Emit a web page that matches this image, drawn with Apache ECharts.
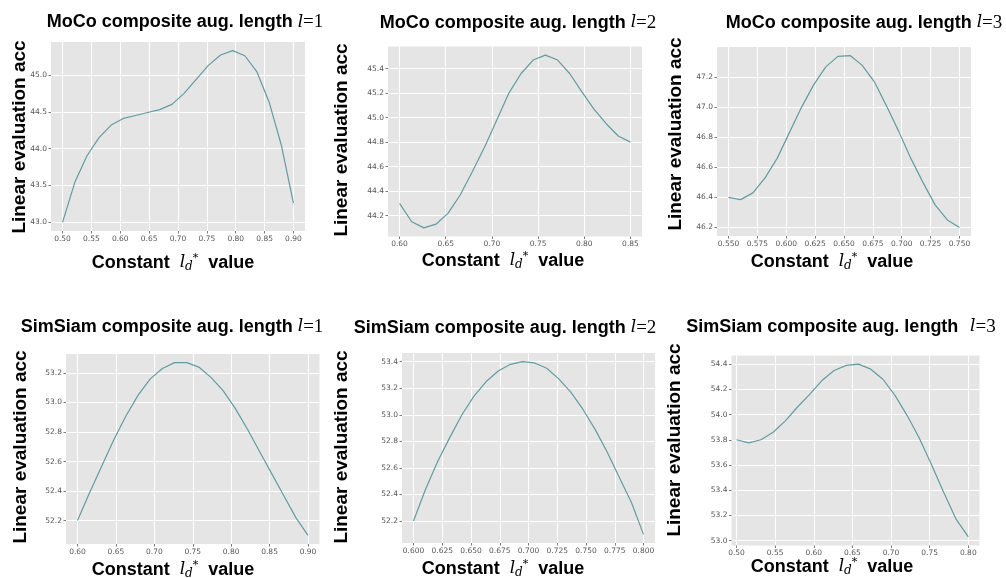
<!DOCTYPE html>
<html>
<head>
<meta charset="utf-8">
<script src="https://cdn.jsdelivr.net/npm/echarts@6/dist/echarts.min.js"></script>
<style>
html, body { margin: 0; padding: 0; background: #fff; }
#chart { width: 1006px; height: 578px; }
</style>
</head>
<body>
<div id="chart"></div>
<script>
// MoCo l=1
const moco1X = [0.5000, 0.5211, 0.5421, 0.5632, 0.5842, 0.6053, 0.6263, 0.6474, 0.6684, 0.6895,
  0.7105, 0.7316, 0.7526, 0.7737, 0.7947, 0.8158, 0.8368, 0.8579, 0.8789, 0.9000];
const moco1Y = [43.00, 43.54, 43.90, 44.15, 44.32, 44.41, 44.45, 44.49, 44.53, 44.60,
  44.75, 44.94, 45.13, 45.27, 45.33, 45.26, 45.04, 44.63, 44.05, 43.26];
const moco1XTicks = [0.50, 0.55, 0.60, 0.65, 0.70, 0.75, 0.80, 0.85, 0.90];
const moco1YTicks = [43.0, 43.5, 44.0, 44.5, 45.0];

// MoCo l=2
const moco2X = [0.6000, 0.6132, 0.6263, 0.6395, 0.6526, 0.6658, 0.6789, 0.6921, 0.7053, 0.7184,
  0.7316, 0.7447, 0.7579, 0.7711, 0.7842, 0.7974, 0.8105, 0.8237, 0.8368, 0.8500];
const moco2Y = [44.30, 44.15, 44.10, 44.13, 44.22, 44.37, 44.56, 44.76, 44.98, 45.20,
  45.36, 45.47, 45.51, 45.47, 45.36, 45.21, 45.07, 44.95, 44.85, 44.80];
const moco2XTicks = [0.60, 0.65, 0.70, 0.75, 0.80, 0.85];
const moco2YTicks = [44.2, 44.4, 44.6, 44.8, 45.0, 45.2, 45.4];

// MoCo l=3
const moco3X = [0.5500, 0.5605, 0.5711, 0.5816, 0.5921, 0.6026, 0.6132, 0.6237, 0.6342, 0.6447,
  0.6553, 0.6658, 0.6763, 0.6868, 0.6974, 0.7079, 0.7184, 0.7289, 0.7395, 0.7500];
const moco3Y = [46.40, 46.385, 46.43, 46.53, 46.66, 46.83, 47.00, 47.15, 47.27, 47.34,
  47.345, 47.28, 47.17, 47.01, 46.84, 46.66, 46.50, 46.35, 46.25, 46.20];
const moco3XTicks = [0.550, 0.575, 0.600, 0.625, 0.650, 0.675, 0.700, 0.725, 0.750];
const moco3YTicks = [46.2, 46.4, 46.6, 46.8, 47.0, 47.2];

// SimSiam l=1
const sim1X = [0.6000, 0.6158, 0.6316, 0.6474, 0.6632, 0.6789, 0.6947, 0.7105, 0.7263, 0.7421,
  0.7579, 0.7737, 0.7895, 0.8053, 0.8211, 0.8368, 0.8526, 0.8684, 0.8842, 0.9000];
const sim1Y = [52.20, 52.39, 52.57, 52.75, 52.91, 53.05, 53.16, 53.23, 53.27, 53.27,
  53.24, 53.17, 53.08, 52.96, 52.82, 52.67, 52.52, 52.37, 52.22, 52.10];
const sim1XTicks = [0.60, 0.65, 0.70, 0.75, 0.80, 0.85, 0.90];
const sim1YTicks = [52.2, 52.4, 52.6, 52.8, 53.0, 53.2];

// SimSiam l=2
const sim2X = [0.6000, 0.6105, 0.6211, 0.6316, 0.6421, 0.6526, 0.6632, 0.6737, 0.6842, 0.6947,
  0.7053, 0.7158, 0.7263, 0.7368, 0.7474, 0.7579, 0.7684, 0.7789, 0.7895, 0.8000];
const sim2Y = [52.20, 52.44, 52.65, 52.83, 53.00, 53.14, 53.25, 53.33, 53.38, 53.40,
  53.39, 53.35, 53.27, 53.17, 53.04, 52.89, 52.72, 52.53, 52.34, 52.10];
const sim2XTicks = [0.600, 0.625, 0.650, 0.675, 0.700, 0.725, 0.750, 0.775, 0.800];
const sim2YTicks = [52.2, 52.4, 52.6, 52.8, 53.0, 53.2, 53.4];

// SimSiam l=3
const sim3X = [0.5000, 0.5158, 0.5316, 0.5474, 0.5632, 0.5789, 0.5947, 0.6105, 0.6263, 0.6421,
  0.6579, 0.6737, 0.6895, 0.7053, 0.7211, 0.7368, 0.7526, 0.7684, 0.7842, 0.8000];
const sim3Y = [53.80, 53.775, 53.80, 53.86, 53.95, 54.06, 54.16, 54.27, 54.35, 54.39,
  54.40, 54.36, 54.28, 54.15, 53.99, 53.81, 53.60, 53.38, 53.17, 53.03];
const sim3XTicks = [0.50, 0.55, 0.60, 0.65, 0.70, 0.75, 0.80];
const sim3YTicks = [53.0, 53.2, 53.4, 53.6, 53.8, 54.0, 54.2, 54.4];

// layout of the six panels (px)
const panels = [
  { name: 'MoCo', l: '1', x: moco1X, y: moco1Y, xt: moco1XTicks, yt: moco1YTicks, xd: 2,
    grid: [51, 42, 254, 189], title: [185, 22.5], yName: [20, 137], xName: [173, 263] },
  { name: 'MoCo', l: '2', x: moco2X, y: moco2Y, xt: moco2XTicks, yt: moco2YTicks, xd: 2,
    grid: [388, 46.5, 254, 190], title: [518, 22.7], yName: [342, 140], xName: [503, 261] },
  { name: 'MoCo', l: '3', x: moco3X, y: moco3Y, xt: moco3XTicks, yt: moco3YTicks, xd: 3,
    grid: [717, 47, 254, 189], title: [864, 23], yName: [676, 134], xName: [832, 262] },
  { name: 'SimSiam', l: '1', x: sim1X, y: sim1Y, xt: sim1XTicks, yt: sim1YTicks, xd: 2,
    grid: [66, 354, 253.5, 190], title: [172, 327], yName: [21, 447], xName: [173, 570] },
  { name: 'SimSiam', l: '2', x: sim2X, y: sim2Y, xt: sim2XTicks, yt: sim2YTicks, xd: 3,
    grid: [402, 353, 253, 190], title: [505, 328], yName: [342, 447], xName: [503, 569] },
  { name: 'SimSiam', l: '3', x: sim3X, y: sim3Y, xt: sim3XTicks, yt: sim3YTicks, xd: 2,
    grid: [731.5, 355.5, 248, 190], title: [841, 327], yName: [675, 440], xName: [832, 567],
    xMin: 0.4935, xMax: 0.8145, gap: '  ' }
];

const pad = v => v.min - 0.05 * (v.max - v.min);
const padMax = v => v.max + 0.05 * (v.max - v.min);
const tickColor = '#555';

const chart = echarts.init(document.getElementById('chart'));

const grids = [], xAxes = [], yAxes = [], series = [], graphics = [];
panels.forEach((p, i) => {
  grids.push({
    left: p.grid[0], top: p.grid[1], width: p.grid[2], height: p.grid[3],
    show: true, backgroundColor: '#E5E5E5', borderWidth: 0
  });
  const common = {
    type: 'value', scale: true,
    axisLine: { show: false },
    axisTick: { show: true, length: 2.5, lineStyle: { color: tickColor, width: 0.8 } },
    splitLine: { show: true, lineStyle: { color: '#ffffff', width: 1 } }
  };
  xAxes.push(Object.assign({}, common, {
    gridIndex: i,
    min: p.xMin !== undefined ? p.xMin : pad,
    max: p.xMax !== undefined ? p.xMax : padMax,
    axisTick: Object.assign({}, common.axisTick, { customValues: p.xt }),
    axisLabel: {
      customValues: p.xt, color: tickColor, fontSize: 7.5, fontFamily: 'DejaVu Sans', margin: 4,
      formatter: v => v.toFixed(p.xd)
    }
  }));
  yAxes.push(Object.assign({}, common, {
    gridIndex: i, min: pad, max: padMax,
    axisTick: Object.assign({}, common.axisTick, { customValues: p.yt }),
    axisLabel: {
      customValues: p.yt, color: tickColor, fontSize: 7.5, fontFamily: 'DejaVu Sans', margin: 4,
      formatter: v => v.toFixed(1)
    }
  }));
  series.push({
    type: 'line', xAxisIndex: i, yAxisIndex: i,
    data: p.x.map((x, k) => [x, p.y[k]]),
    showSymbol: false, smooth: false,
    lineStyle: { color: '#5F9EA0', width: 1.2 }
  });

  // panel title
  graphics.push({
    type: 'text', x: p.title[0], y: p.title[1],
    style: {
      text: '{b|' + p.name + ' composite aug. length }' + (p.gap || '') + '{i|l}{r|=' + p.l + '}',
      align: 'center', verticalAlign: 'middle',
      rich: {
        b: { fontFamily: 'Liberation Sans', fontWeight: 'bold', fontSize: 18, fill: '#000' },
        i: { fontFamily: 'DejaVu Serif', fontStyle: 'italic', fontSize: 17, fill: '#000' },
        r: { fontFamily: 'Liberation Serif', fontSize: 19, fill: '#000' }
      }
    }
  });
  // y axis title
  graphics.push({
    type: 'text', x: p.yName[0], y: p.yName[1], rotation: Math.PI / 2,
    style: {
      text: 'Linear evaluation acc', align: 'center', verticalAlign: 'middle',
      fontFamily: 'Liberation Sans', fontWeight: 'bold', fontSize: 19, fill: '#000'
    }
  });
  // x axis title
  graphics.push({
    type: 'text', x: p.xName[0], y: p.xName[1],
    style: {
      text: '{b|Constant  }{l|l}{d|d}{s|*}{b|  value}',
      align: 'center', verticalAlign: 'middle',
      rich: {
        b: { fontFamily: 'Liberation Sans', fontWeight: 'bold', fontSize: 18, fill: '#000', lineHeight: 20 },
        l: { fontFamily: 'DejaVu Serif', fontStyle: 'italic', fontSize: 17, fill: '#000', lineHeight: 20 },
        d: { fontFamily: 'DejaVu Serif', fontStyle: 'italic', fontSize: 12, fill: '#000', verticalAlign: 'bottom', lineHeight: 10 },
        s: { fontFamily: 'DejaVu Serif', fontSize: 11, fill: '#000', verticalAlign: 'top', lineHeight: 18 }
      }
    }
  });
});

chart.setOption({
  animation: false,
  grid: grids,
  xAxis: xAxes,
  yAxis: yAxes,
  series: series,
  graphic: graphics
});
</script>
</body>
</html>
